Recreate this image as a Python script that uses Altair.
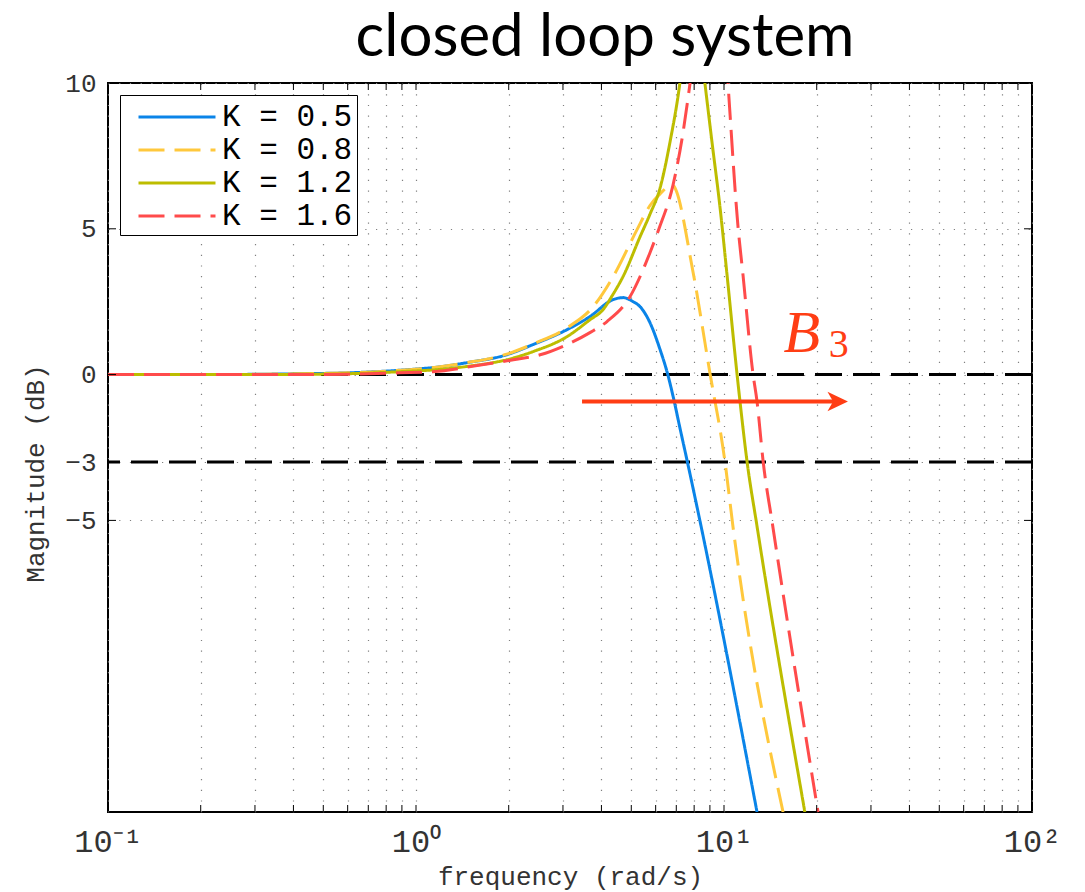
import altair as alt
import pandas as pd

TITLE = "closed loop system"
X_TITLE = "frequency (rad/s)"
Y_TITLE = "Magnitude (dB)"

labels = ["K = 0.5", "K = 0.8", "K = 1.2", "K = 1.6"]
colors = ["#0A84E8", "#FFC83C", "#BDBD00", "#FF4B4B"]
dashes = [[1, 0], [26, 10], [1, 0], [26, 10]]

# K = 0.5 (blue)
blue_w = [0.1, 0.2, 0.3, 0.42, 0.6, 0.887, 1.2, 1.465, 1.97, 2.40, 3.09, 3.67, 4.36, 4.70,
          5.07, 5.34, 5.75, 6.20, 6.53, 6.85, 7.19, 7.59, 8.36, 12.8]
blue_db = [0, 0, 0.01, 0.03, 0.06, 0.15, 0.27, 0.41, 0.68, 1.03, 1.54, 1.99, 2.57, 2.64,
           2.5, 2.33, 1.78, 0.86, 0.1, -0.79, -1.82, -2.95, -5.03, -15]
# K = 0.8 (yellow, dashed)
yel_w = [0.1, 0.2, 0.3, 0.42, 0.6, 0.887, 1.2, 1.465, 1.97, 2.40, 3.09, 3.76, 4.36, 5.22,
         5.75, 6.2, 6.78, 7.93, 8.82, 9.01, 9.35, 9.71, 10.07, 10.69, 15.55]
yel_db = [0, 0, 0.01, 0.03, 0.06, 0.15, 0.27, 0.41, 0.7, 1.05, 1.6, 2.33, 3.35, 4.97,
          5.8, 6.2, 6.5, 3.53, 0.62, 0.03, -0.92, -1.88, -2.98, -5.2, -15]
# K = 1.2 (olive)
ol_w = [0.1, 0.2, 0.3, 0.42, 0.6, 0.887, 1.2, 1.465, 1.97, 2.40, 3.09, 3.67, 4.05, 4.36,
        4.70, 5.34, 5.75, 6.20, 6.68, 7.19, 7.87, 8.67, 9.14, 9.71, 10.23, 11.02, 11.27,
        11.88, 12.8, 18.3]
ol_db = [0, 0, 0, 0.01, 0.03, 0.1, 0.18, 0.28, 0.51, 0.79, 1.3, 1.88, 2.23, 2.75,
         3.36, 4.73, 5.5, 6.4, 7.98, 10.0, 14.0, 10.0, 7.98, 5.72, 3.42, 0.03, -0.92,
         -2.98, -5.2, -15]
# K = 1.6 (red, dashed)
red_w = [0.1, 0.2, 0.3, 0.42, 0.6, 0.887, 1.135, 1.58, 2.07, 2.53, 3.09, 3.67, 4.17, 4.95,
         5.75, 6.15, 6.83, 7.31, 7.76, 9.29, 10.3, 11.09, 11.53, 12.42, 12.8, 13.4, 14.4, 20.2]
red_db = [0, 0, 0, 0, 0.01, 0.06, 0.1, 0.31, 0.51, 0.68, 1.03, 1.44, 1.82, 2.67,
          4.18, 5.0, 6.5, 8.1, 10.0, 17.0, 10.0, 5.14, 3.4, 0.03, -0.92, -2.98, -5.2, -15]

x_ticks = [0.1, 0.2, 0.3, 0.4, 0.5, 0.6, 0.7, 0.8, 0.9,
           1, 2, 3, 4, 5, 6, 7, 8, 9,
           10, 20, 30, 40, 50, 60, 70, 80, 90, 100]
y_ticks = [10, 5, 0, -3, -5]
ref_levels = [0, -3]
arrow_w = [3.46, 23.4]
arrow_db = -0.92
b_label = {"w": 17.9, "db": 0.79, "text": "B"}
sub_label = {"w": 23.6, "db": 0.62, "text": "3"}

W, H = 924, 729
ARROW_COLOR = "#FF3D14"

rows = []
for lab, ws, ds in zip(labels, [blue_w, yel_w, ol_w, red_w], [blue_db, yel_db, ol_db, red_db]):
    for i, (w, d) in enumerate(zip(ws, ds)):
        rows.append({"K": lab, "w": w, "db": d, "order": i})
curves_df = pd.DataFrame(rows)

xscale = alt.Scale(type="log", domain=[0.1, 100], nice=False)
yscale = alt.Scale(domain=[-15, 10], nice=False, zero=False)

label_expr = ("datum.value == 0.1 ? '10\u207b\u00b9' : datum.value == 1 ? '10\u2070' : "
              "datum.value == 10 ? '10\u00b9' : datum.value == 100 ? '10\u00b2' : ''")

x_axis = alt.Axis(values=x_ticks, labelExpr=label_expr, labelFontSize=32, labelPadding=14,
                  labelFlush=False, labelOverlap=False, grid=True, title=X_TITLE,
                  titleFontSize=26, titlePadding=6)
y_axis = alt.Axis(values=y_ticks, labelFontSize=26, labelPadding=12, labelFlush=False,
                  labelOverlap=False, grid=True, title=Y_TITLE, titleFontSize=26,
                  titlePadding=16, titleY=390)


def X(field="w"):
    return alt.X(f"{field}:Q", scale=xscale, axis=x_axis, title=X_TITLE)


def Y(field="db"):
    return alt.Y(f"{field}:Q", scale=yscale, axis=y_axis, title=Y_TITLE)


legend = alt.Legend(title=None, orient="top-left", offset=12, symbolType="M-2.333,0H2.333",
                    symbolSize=1089, symbolStrokeWidth=3, symbolOffset=35, labelOffset=27,
                    labelFont="Liberation Mono", labelFontSize=31, labelColor="black",
                    fillColor="white", strokeColor="black", padding=4, rowPadding=0)

curves = alt.Chart(curves_df).mark_line(strokeWidth=3, clip=True, interpolate="monotone").encode(
    x=X(),
    y=Y(),
    color=alt.Color("K:N", scale=alt.Scale(domain=labels, range=colors), legend=legend),
    strokeDash=alt.StrokeDash("K:N", scale=alt.Scale(domain=labels, range=dashes), legend=legend),
    order="order:Q",
)

ref_df = pd.DataFrame({"db": ref_levels})
ref = alt.Chart(ref_df).mark_rule(color="black", strokeWidth=3, strokeDash=[27, 11]).encode(
    y=Y()
)

xt_df = pd.DataFrame({"w": x_ticks})
bottom_ticks = alt.Chart(xt_df).mark_rule(color="black", strokeWidth=1).encode(
    x=X(), y=alt.value(H), y2=alt.value(H - 7))
top_ticks = alt.Chart(xt_df).mark_rule(color="black", strokeWidth=1).encode(
    x=X(), y=alt.value(0), y2=alt.value(7))
yt_df = pd.DataFrame({"db": y_ticks})
left_ticks = alt.Chart(yt_df).mark_rule(color="black", strokeWidth=1).encode(
    y=Y(), x=alt.value(0), x2=alt.value(8))
right_ticks = alt.Chart(yt_df).mark_rule(color="black", strokeWidth=1).encode(
    y=Y(), x=alt.value(W), x2=alt.value(W - 8))

arrow_df = pd.DataFrame({"w": [arrow_w[0]], "w2": [arrow_w[1]], "db": [arrow_db]})
arrow_line = alt.Chart(arrow_df).mark_rule(color=ARROW_COLOR, strokeWidth=4).encode(
    x=X(), x2="w2:Q", y=Y())
head_df = pd.DataFrame({"w": [arrow_w[1]], "db": [arrow_db]})
arrow_head = alt.Chart(head_df).mark_point(
    shape="M1,0L-1,-0.95L-0.45,0L-1,0.95Z", size=420, filled=True, opacity=1,
    color=ARROW_COLOR).encode(x=X(), y=Y())

b_text = alt.Chart(pd.DataFrame([b_label])).mark_text(
    font="Liberation Serif", fontStyle="italic", fontSize=60, color=ARROW_COLOR,
    align="center", baseline="alphabetic").encode(x=X(), y=Y(), text="text:N")
sub_text = alt.Chart(pd.DataFrame([sub_label])).mark_text(
    font="Liberation Serif", fontSize=40, color=ARROW_COLOR,
    align="center", baseline="alphabetic").encode(x=X(), y=Y(), text="text:N")

chart = alt.layer(
    ref, curves, bottom_ticks, top_ticks, left_ticks, right_ticks,
    arrow_line, arrow_head, b_text, sub_text
).properties(
    width=W, height=H,
    padding={"left": 108, "top": 83, "right": 53, "bottom": 80},
    autosize="none",
    title=alt.TitleParams(TITLE, font="Lato", fontSize=60, fontWeight="normal",
                          color="black", anchor="middle", dx=35, dy=46, offset=0,
                          baseline="alphabetic"),
).configure_view(
    stroke="black", strokeWidth=2
).configure_axis(
    domain=False, ticks=False, labelFont="Liberation Mono", titleFont="Liberation Mono",
    titleFontWeight="normal", labelColor="#333333", titleColor="#333333",
    gridColor="#808080", gridDash=[1.2, 9.5], gridWidth=1.2
)

chart.save("out.html", embed_options={"renderer": "svg", "actions": False})
